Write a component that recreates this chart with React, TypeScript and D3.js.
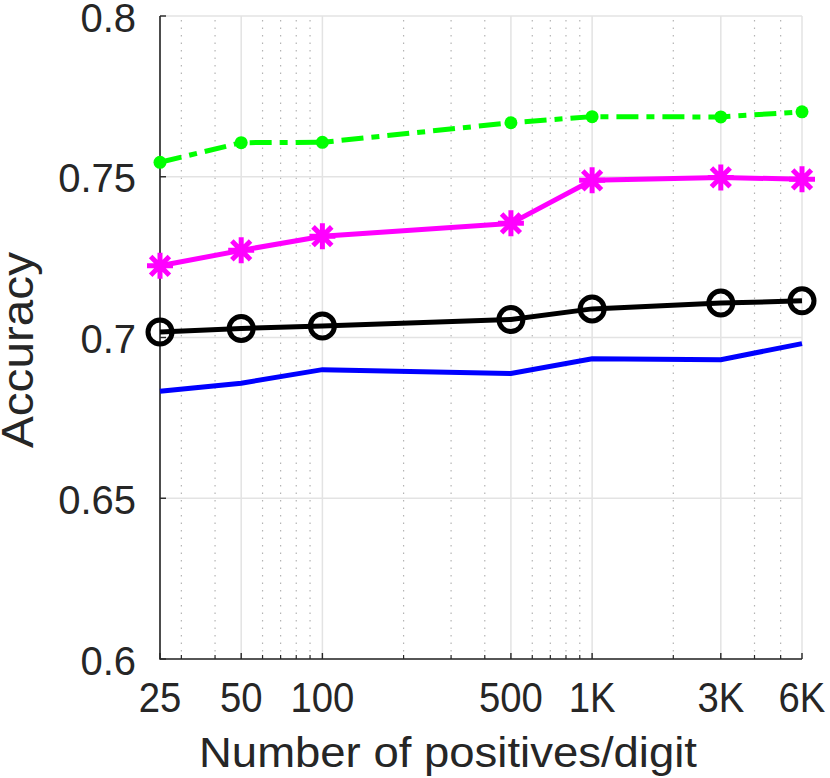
import React, { useEffect, useRef } from "react";
import * as d3 from "d3";

// number of positives per digit (x) and accuracy of each method
const positives = [25, 50, 100, 500, 1000, 3000, 6000];
const xTickLabels = ["25", "50", "100", "500", "1K", "3K", "6K"];
const yTicks = [0.6, 0.65, 0.7, 0.75, 0.8];
const yTickLabels = ["0.6", "0.65", "0.7", "0.75", "0.8"];

const greenAcc = [0.7545, 0.7606, 0.7607, 0.7668, 0.7687, 0.7686, 0.7702];
const magentaAcc = [0.7223, 0.7271, 0.7315, 0.7355, 0.7489, 0.7498, 0.7492];
const blackAcc = [0.7017, 0.7028, 0.7036, 0.7056, 0.7089, 0.7107, 0.7114];
const blueAcc = [0.6833, 0.6858, 0.69, 0.6888, 0.6934, 0.6931, 0.6981];

const W = 830;
const H = 778;
const margin = { left: 160, right: 28, top: 16, bottom: 119 };
const axisColor = "#262626";

function App() {
  const ref = useRef<HTMLDivElement | null>(null);

  useEffect(() => {
    document.body.style.margin = "0";

    const svg = d3
      .select(ref.current)
      .append("svg")
      .attr("width", W)
      .attr("height", H)
      .style("display", "block")
      .style("font-family", "'Liberation Sans', Arial, Helvetica, sans-serif");

    const x = d3
      .scaleLog()
      .domain([25, 6000])
      .range([margin.left, W - margin.right]);
    const y = d3
      .scaleLinear()
      .domain([0.6, 0.8])
      .range([H - margin.bottom, margin.top]);

    const [x0, x1] = x.range();
    const [y0, y1] = y.range();

    // minor log ticks (multiples inside each decade, minus the labelled ones)
    const minor: number[] = [];
    [10, 100, 1000].forEach((d) => {
      for (let m = 2; m <= 9; m++) {
        const v = m * d;
        if (v > 25 && v < 6000 && !positives.includes(v)) minor.push(v);
      }
    });

    // minor dotted grid
    minor.forEach((v) =>
      svg
        .append("line")
        .attr("x1", x(v))
        .attr("x2", x(v))
        .attr("y1", y0)
        .attr("y2", y1)
        .attr("stroke", "#b4b4b4")
        .attr("stroke-width", 1.2)
        .attr("stroke-dasharray", "1.5 6")
    );

    // major grid
    positives.forEach((v) =>
      svg
        .append("line")
        .attr("x1", x(v))
        .attr("x2", x(v))
        .attr("y1", y0)
        .attr("y2", y1)
        .attr("stroke", "#e3e3e3")
        .attr("stroke-width", 1.5)
    );
    yTicks.forEach((v) =>
      svg
        .append("line")
        .attr("x1", x0)
        .attr("x2", x1)
        .attr("y1", y(v))
        .attr("y2", y(v))
        .attr("stroke", "#e3e3e3")
        .attr("stroke-width", 1.5)
    );

    // axes
    svg
      .append("path")
      .attr("d", `M${x0},${y1}V${y0}H${x1}`)
      .attr("fill", "none")
      .attr("stroke", axisColor)
      .attr("stroke-width", 1.6);

    yTicks.forEach((v, i) => {
      svg
        .append("line")
        .attr("x1", x0)
        .attr("x2", x0 + 6)
        .attr("y1", y(v))
        .attr("y2", y(v))
        .attr("stroke", axisColor)
        .attr("stroke-width", 1.4);
      svg
        .append("text")
        .attr("x", 136)
        .attr("y", y(v) + 15.5)
        .attr("text-anchor", "end")
        .attr("font-size", 40)
        .attr("fill", axisColor)
        .text(yTickLabels[i]);
    });

    minor.forEach((v) =>
      svg
        .append("line")
        .attr("x1", x(v))
        .attr("x2", x(v))
        .attr("y1", y0)
        .attr("y2", y0 - 4)
        .attr("stroke", axisColor)
        .attr("stroke-width", 1.2)
    );
    positives.forEach((v, i) => {
      svg
        .append("line")
        .attr("x1", x(v))
        .attr("x2", x(v))
        .attr("y1", y0)
        .attr("y2", y0 - 6)
        .attr("stroke", axisColor)
        .attr("stroke-width", 1.4);
      svg
        .append("text")
        .attr("transform", `translate(${x(v)},712) scale(0.89,1)`)
        .attr("text-anchor", "middle")
        .attr("font-size", 43)
        .attr("fill", axisColor)
        .text(xTickLabels[i]);
    });

    // axis titles
    svg
      .append("text")
      .attr("x", 199)
      .attr("y", 766.5)
      .attr("font-size", 43)
      .attr("textLength", 498)
      .attr("lengthAdjust", "spacingAndGlyphs")
      .attr("fill", axisColor)
      .text("Number of positives/digit");

    svg
      .append("text")
      .attr("transform", "translate(33,448) rotate(-90)")
      .attr("font-size", 44)
      .attr("textLength", 196)
      .attr("lengthAdjust", "spacingAndGlyphs")
      .attr("fill", axisColor)
      .text("Accuracy");

    const line = d3
      .line<number>()
      .x((_, i) => x(positives[i]))
      .y((d) => y(d));

    // blue: plain line
    svg
      .append("path")
      .datum(blueAcc)
      .attr("d", line)
      .attr("fill", "none")
      .attr("stroke", "#0000ff")
      .attr("stroke-width", 5);

    // black: circles
    svg
      .append("path")
      .datum(blackAcc)
      .attr("d", line)
      .attr("fill", "none")
      .attr("stroke", "#000000")
      .attr("stroke-width", 5);
    blackAcc.forEach((d, i) =>
      svg
        .append("circle")
        .attr("cx", x(positives[i]))
        .attr("cy", y(d))
        .attr("r", 12)
        .attr("fill", "none")
        .attr("stroke", "#000000")
        .attr("stroke-width", 5)
    );

    // magenta: asterisks
    svg
      .append("path")
      .datum(magentaAcc)
      .attr("d", line)
      .attr("fill", "none")
      .attr("stroke", "#ff00ff")
      .attr("stroke-width", 5);
    magentaAcc.forEach((d, i) => {
      const cx = x(positives[i]);
      const cy = y(d);
      const r = 13;
      const q = r * 0.72;
      svg
        .append("path")
        .attr(
          "d",
          `M${cx - r},${cy}H${cx + r}M${cx},${cy - r}V${cy + r}` +
            `M${cx - q},${cy - q}L${cx + q},${cy + q}M${cx - q},${cy + q}L${cx + q},${cy - q}`
        )
        .attr("stroke", "#ff00ff")
        .attr("stroke-width", 5);
    });

    // green: dash-dot with dots
    svg
      .append("path")
      .datum(greenAcc)
      .attr("d", line)
      .attr("fill", "none")
      .attr("stroke", "#00ff00")
      .attr("stroke-width", 5)
      .attr("stroke-dasharray", "22 8 8 8");
    greenAcc.forEach((d, i) =>
      svg
        .append("circle")
        .attr("cx", x(positives[i]))
        .attr("cy", y(d))
        .attr("r", 6.5)
        .attr("fill", "#00ff00")
    );

    return () => {
      svg.selectAll("*").remove();
      svg.remove();
    };
  }, []);

  return <div ref={ref} />;
}

export default App;
